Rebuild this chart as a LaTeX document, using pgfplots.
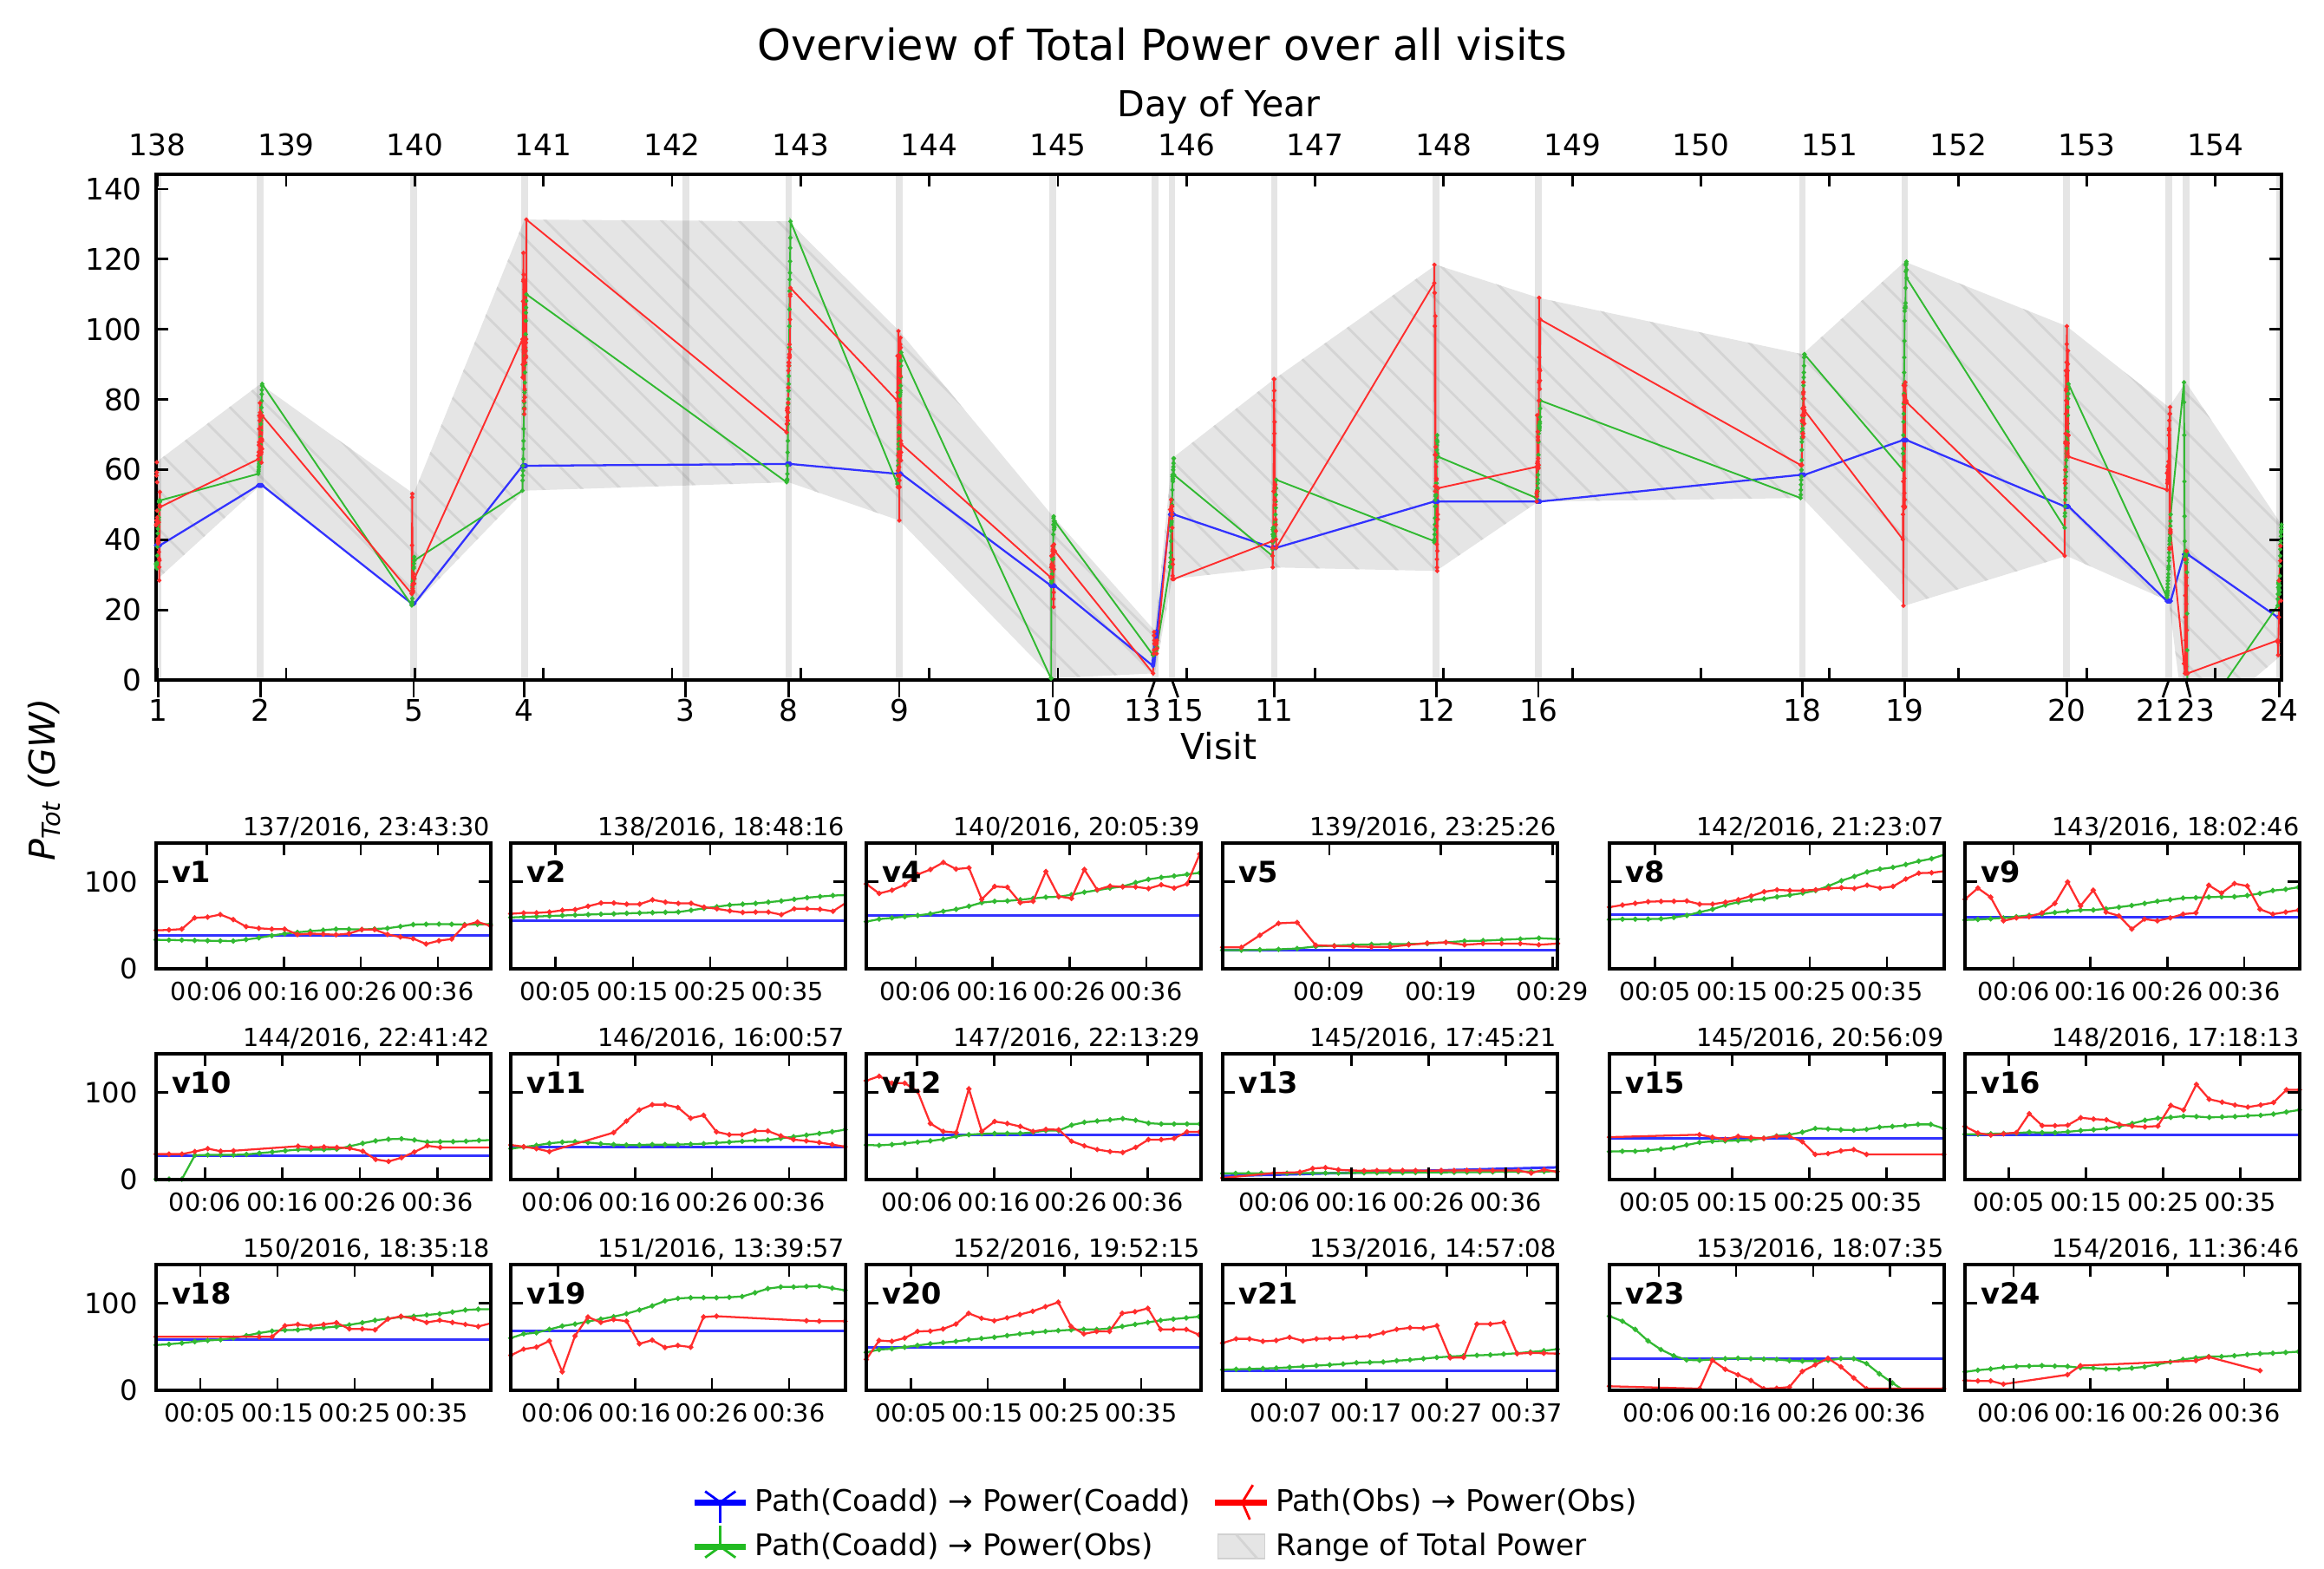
\documentclass[border=0pt]{standalone}
\usepackage{fontspec}
\setmainfont{DejaVu Sans}
\usepackage{pgfplots}
\pgfplotsset{compat=1.18}
\usepackage{pgfplotstable}
\usetikzlibrary{patterns.meta}

\definecolor{cb}{RGB}{50,50,255}
\definecolor{cr}{RGB}{255,45,45}
\definecolor{cg}{RGB}{50,185,50}
\definecolor{lb}{RGB}{0,0,255}
\definecolor{lr}{RGB}{255,0,0}
\definecolor{lg}{RGB}{34,187,34}

\newcommand\fB{\fontsize{9.8}{11.8}\selectfont}
\newcommand\fS{\fontsize{8.2}{9.8}\selectfont}
\newcommand\fL{\fontsize{11.75}{14}\selectfont}
\newcommand\fT{\fontsize{14.1}{17}\selectfont}

% v = visit, s = start (day of year), t = minutes since start,
% b = Path(Coadd)->Power(Coadd), g = Path(Coadd)->Power(Obs)
\pgfplotstableread{
v s t b g
1 137.98854 0 38.4 33.2
1 137.98854 1.67 38.4 33
1 137.98854 3.33 38.4 32.8
1 137.98854 5 38.4 32.5
1 137.98854 6.67 38.4 32.2
1 137.98854 8.33 38.4 32
1 137.98854 10 38.4 31.8
1 137.98854 11.67 38.4 33.5
1 137.98854 13.33 38.4 35.5
1 137.98854 15 38.4 38
1 137.98854 16.67 38.4 40.3
1 137.98854 18.33 38.4 41.8
1 137.98854 20 38.4 43.1
1 137.98854 21.67 38.4 44.3
1 137.98854 23.33 38.4 45.5
1 137.98854 25 38.4 45.3
1 137.98854 26.67 38.4 45
1 137.98854 28.33 38.4 45.6
1 137.98854 30 38.4 46.4
1 137.98854 31.67 38.4 48.5
1 137.98854 33.33 38.4 50.7
1 137.98854 35 38.4 51
1 137.98854 36.67 38.4 51.2
1 137.98854 38.33 38.4 51
1 137.98854 40 38.4 50.7
1 137.98854 41.67 38.4 50.9
1 137.98854 43.33 38.4 51.2
2 138.78352 0 55.5 58.8
2 138.78352 1.67 55.5 59.4
2 138.78352 3.33 55.5 59.9
2 138.78352 5 55.5 60.5
2 138.78352 6.67 55.5 61
2 138.78352 8.33 55.5 61.6
2 138.78352 10 55.5 62.1
2 138.78352 11.67 55.5 62.6
2 138.78352 13.33 55.5 63
2 138.78352 15 55.5 63.5
2 138.78352 16.67 55.5 64
2 138.78352 18.33 55.5 64.3
2 138.78352 20 55.5 64.7
2 138.78352 21.67 55.5 65
2 138.78352 23.33 55.5 67.1
2 138.78352 25 55.5 69.2
2 138.78352 26.67 55.5 71.1
2 138.78352 28.33 55.5 73
2 138.78352 30 55.5 74
2 138.78352 31.67 55.5 74.9
2 138.78352 33.33 55.5 76.3
2 138.78352 35 55.5 77.7
2 138.78352 36.67 55.5 79.6
2 138.78352 38.33 55.5 81.5
2 138.78352 40 55.5 82.7
2 138.78352 41.67 55.5 83.9
2 138.78352 43.33 55.5 84.4
5 139.976 0 21.8 21.3
5 139.976 1.67 21.8 21.3
5 139.976 3.33 21.8 21.8
5 139.976 5 21.8 22.3
5 139.976 6.67 21.8 23.2
5 139.976 8.33 21.8 25.6
5 139.976 10 21.8 26.5
5 139.976 11.67 21.8 27.5
5 139.976 13.33 21.8 28
5 139.976 15 21.8 28.4
5 139.976 16.67 21.8 28.4
5 139.976 18.33 21.8 28.9
5 139.976 20 21.8 30.3
5 139.976 21.67 21.8 31.8
5 139.976 23.33 21.8 32.2
5 139.976 25 21.8 33.2
5 139.976 26.67 21.8 34.1
5 139.976 28.33 21.8 35.1
5 139.976 30 21.8 34.1
4 140.83726 0 61.1 54
4 140.83726 1.67 61.1 56.9
4 140.83726 3.33 61.1 58.3
4 140.83726 5 61.1 59.7
4 140.83726 6.67 61.1 61.1
4 140.83726 8.33 61.1 63
4 140.83726 10 61.1 65.9
4 140.83726 11.67 61.1 68.2
4 140.83726 13.33 61.1 71.6
4 140.83726 15 61.1 75.8
4 140.83726 16.67 61.1 77.3
4 140.83726 18.33 61.1 77.7
4 140.83726 20 61.1 79.1
4 140.83726 21.67 61.1 80.6
4 140.83726 23.33 61.1 82
4 140.83726 25 61.1 82.5
4 140.83726 26.67 61.1 84.8
4 140.83726 28.33 61.1 87.7
4 140.83726 30 61.1 90
4 140.83726 31.67 61.1 92.4
4 140.83726 33.33 61.1 94.3
4 140.83726 35 61.1 98.6
4 140.83726 36.67 61.1 102.4
4 140.83726 38.33 61.1 104.7
4 140.83726 40 61.1 106.2
4 140.83726 41.67 61.1 108.1
4 140.83726 43.33 61.1 110
8 142.89105 0 61.6 56.4
8 142.89105 1.67 61.6 56.9
8 142.89105 3.33 61.6 56.9
8 142.89105 5 61.6 56.9
8 142.89105 6.67 61.6 57.3
8 142.89105 8.33 61.6 58.8
8 142.89105 10 61.6 61.1
8 142.89105 11.67 61.6 64.9
8 142.89105 13.33 61.6 68.2
8 142.89105 15 61.6 73
8 142.89105 16.67 61.6 76.3
8 142.89105 18.33 61.6 78.7
8 142.89105 20 61.6 80.1
8 142.89105 21.67 61.6 82.5
8 142.89105 23.33 61.6 84.4
8 142.89105 25 61.6 86.7
8 142.89105 26.67 61.6 89.6
8 142.89105 28.33 61.6 94.8
8 142.89105 30 61.6 100.9
8 142.89105 31.67 61.6 105.7
8 142.89105 33.33 61.6 110.9
8 142.89105 35 61.6 114.2
8 142.89105 36.67 61.6 116.1
8 142.89105 38.33 61.6 119.4
8 142.89105 40 61.6 123.2
8 142.89105 41.67 61.6 126.1
8 142.89105 43.33 61.6 130.8
9 143.75192 0 58.8 55.9
9 143.75192 1.67 58.8 56.4
9 143.75192 3.33 58.8 57.3
9 143.75192 5 58.8 58.3
9 143.75192 6.67 58.8 59.7
9 143.75192 8.33 58.8 61.1
9 143.75192 10 58.8 62.6
9 143.75192 11.67 58.8 64.5
9 143.75192 13.33 58.8 65.9
9 143.75192 15 58.8 67.3
9 143.75192 16.67 58.8 67.3
9 143.75192 18.33 58.8 68.7
9 143.75192 20 58.8 70.6
9 143.75192 21.67 58.8 72.5
9 143.75192 23.33 58.8 74.9
9 143.75192 25 58.8 77.3
9 143.75192 26.67 58.8 79.1
9 143.75192 28.33 58.8 81
9 143.75192 30 58.8 81.5
9 143.75192 31.67 58.8 82
9 143.75192 33.33 58.8 82.5
9 143.75192 35 58.8 82.5
9 143.75192 36.67 58.8 83.9
9 143.75192 38.33 58.8 86.3
9 143.75192 40 58.8 89.6
9 143.75192 41.67 58.8 91
9 143.75192 43.33 58.8 93.4
10 144.94563 0 26.9 0.5
10 144.94563 1.67 26.9 0.5
10 144.94563 3.33 26.9 0.5
10 144.94563 5 26.9 27.8
10 144.94563 6.67 26.9 28.3
10 144.94563 8.33 26.9 28.3
10 144.94563 10 26.9 28.3
10 144.94563 11.67 26.9 28.8
10 144.94563 13.33 26.9 30.2
10 144.94563 15 26.9 31.6
10 144.94563 16.67 26.9 33
10 144.94563 18.33 26.9 34.4
10 144.94563 20 26.9 34.4
10 144.94563 21.67 26.9 34.4
10 144.94563 23.33 26.9 34.9
10 144.94563 25 26.9 38.2
10 144.94563 26.67 26.9 41.5
10 144.94563 28.33 26.9 44.3
10 144.94563 30 26.9 46.2
10 144.94563 31.67 26.9 46.7
10 144.94563 33.33 26.9 45.3
10 144.94563 35 26.9 42.9
10 144.94563 36.67 26.9 43.4
10 144.94563 38.33 26.9 43.4
10 144.94563 40 26.9 43.9
10 144.94563 41.67 26.9 44.8
10 144.94563 43.33 26.9 45.3
13 145.73983 0 4 7.1
13 145.73983 1.67 4.4 7.1
13 145.73983 3.33 4.8 7.2
13 145.73983 5 5.2 7.2
13 145.73983 6.67 5.5 7.3
13 145.73983 8.33 5.9 7.3
13 145.73983 10 6.3 7.4
13 145.73983 11.67 6.7 7.4
13 145.73983 13.33 7.1 7.5
13 145.73983 15 7.5 7.5
13 145.73983 16.67 7.8 7.6
13 145.73983 18.33 8.2 7.7
13 145.73983 20 8.6 7.8
13 145.73983 21.67 9 7.9
13 145.73983 23.33 9.4 8
13 145.73983 25 9.8 8.1
13 145.73983 26.67 10.2 8.2
13 145.73983 28.33 10.5 8.3
13 145.73983 30 10.9 8.4
13 145.73983 31.67 11.3 8.5
13 145.73983 33.33 11.7 8.6
13 145.73983 35 12.1 8.8
13 145.73983 36.67 12.5 9
13 145.73983 38.33 12.8 9.1
13 145.73983 40 13.2 9.2
13 145.73983 41.67 13.6 9.3
13 145.73983 43.33 14 9.4
15 145.87233 0 47.2 32.1
15 145.87233 1.67 47.2 32.5
15 145.87233 3.33 47.2 32.5
15 145.87233 5 47.2 33.5
15 145.87233 6.67 47.2 34.9
15 145.87233 8.33 47.2 36.3
15 145.87233 10 47.2 39.6
15 145.87233 11.67 47.2 42.5
15 145.87233 13.33 47.2 43.9
15 145.87233 15 47.2 44.3
15 145.87233 16.67 47.2 44.8
15 145.87233 18.33 47.2 45.3
15 145.87233 20 47.2 47.2
15 145.87233 21.67 47.2 50
15 145.87233 23.33 47.2 51.4
15 145.87233 25 47.2 54.2
15 145.87233 26.67 47.2 58.5
15 145.87233 28.33 47.2 58
15 145.87233 30 47.2 57.1
15 145.87233 31.67 47.2 56.6
15 145.87233 33.33 47.2 57.5
15 145.87233 35 47.2 59.9
15 145.87233 36.67 47.2 60.8
15 145.87233 38.33 47.2 61.8
15 145.87233 40 47.2 63.2
15 145.87233 41.67 47.2 63.2
15 145.87233 43.33 47.2 58.5
11 146.66733 0 37.7 35.4
11 146.66733 1.67 37.7 37.3
11 146.66733 3.33 37.7 39.2
11 146.66733 5 37.7 41.5
11 146.66733 6.67 37.7 42.9
11 146.66733 8.33 37.7 43.4
11 146.66733 10 37.7 42.5
11 146.66733 11.67 37.7 41
11 146.66733 13.33 37.7 40.1
11 146.66733 15 37.7 39.6
11 146.66733 16.67 37.7 39.6
11 146.66733 18.33 37.7 40.1
11 146.66733 20 37.7 40.1
11 146.66733 21.67 37.7 40.1
11 146.66733 23.33 37.7 40.6
11 146.66733 25 37.7 41
11 146.66733 26.67 37.7 42
11 146.66733 28.33 37.7 42.9
11 146.66733 30 37.7 43.9
11 146.66733 31.67 37.7 44.8
11 146.66733 33.33 37.7 45.3
11 146.66733 35 37.7 47.2
11 146.66733 36.67 37.7 49.1
11 146.66733 38.33 37.7 50.9
11 146.66733 40 37.7 52.8
11 146.66733 41.67 37.7 54.7
11 146.66733 43.33 37.7 57.1
12 147.92603 0 50.9 39.6
12 147.92603 1.67 50.9 39.2
12 147.92603 3.33 50.9 40.1
12 147.92603 5 50.9 41.5
12 147.92603 6.67 50.9 42.9
12 147.92603 8.33 50.9 44.3
12 147.92603 10 50.9 46.2
12 147.92603 11.67 50.9 49.5
12 147.92603 13.33 50.9 51.4
12 147.92603 15 50.9 52.4
12 147.92603 16.67 50.9 52.8
12 147.92603 18.33 50.9 52.8
12 147.92603 20 50.9 52.8
12 147.92603 21.67 50.9 54.2
12 147.92603 23.33 50.9 56.1
12 147.92603 25 50.9 56.1
12 147.92603 26.67 50.9 62.3
12 147.92603 28.33 50.9 65.6
12 147.92603 30 50.9 67
12 147.92603 31.67 50.9 68.4
12 147.92603 33.33 50.9 69.8
12 147.92603 35 50.9 67.9
12 147.92603 36.67 50.9 64.6
12 147.92603 38.33 50.9 63.7
12 147.92603 40 50.9 63.7
12 147.92603 41.67 50.9 63.7
12 147.92603 43.33 50.9 63.7
16 148.72098 0 50.9 51.9
16 148.72098 1.67 50.9 51.9
16 148.72098 3.33 50.9 52.4
16 148.72098 5 50.9 52.8
16 148.72098 6.67 50.9 53.3
16 148.72098 8.33 50.9 54.2
16 148.72098 10 50.9 53.8
16 148.72098 11.67 50.9 53.8
16 148.72098 13.33 50.9 54.7
16 148.72098 15 50.9 56.1
16 148.72098 16.67 50.9 57.1
16 148.72098 18.33 50.9 58.5
16 148.72098 20 50.9 60.8
16 148.72098 21.67 50.9 64.2
16 148.72098 23.33 50.9 67.9
16 148.72098 25 50.9 70.3
16 148.72098 26.67 50.9 71.2
16 148.72098 28.33 50.9 72.6
16 148.72098 30 50.9 72.2
16 148.72098 31.67 50.9 71.2
16 148.72098 33.33 50.9 71.7
16 148.72098 35 50.9 72.2
16 148.72098 36.67 50.9 73.1
16 148.72098 38.33 50.9 73.6
16 148.72098 40 50.9 75
16 148.72098 41.67 50.9 77.4
16 148.72098 43.33 50.9 79.7
18 150.77451 0 58.5 51.9
18 150.77451 1.67 58.5 52.8
18 150.77451 3.33 58.5 54.2
18 150.77451 5 58.5 55.7
18 150.77451 6.67 58.5 57.1
18 150.77451 8.33 58.5 58
18 150.77451 10 58.5 59.9
18 150.77451 11.67 58.5 62.7
18 150.77451 13.33 58.5 65.6
18 150.77451 15 58.5 67.9
18 150.77451 16.67 58.5 68.9
18 150.77451 18.33 58.5 69.3
18 150.77451 20 58.5 70.8
18 150.77451 21.67 58.5 71.7
18 150.77451 23.33 58.5 73.1
18 150.77451 25 58.5 75
18 150.77451 26.67 58.5 77.4
18 150.77451 28.33 58.5 80.2
18 150.77451 30 58.5 82.1
18 150.77451 31.67 58.5 84
18 150.77451 33.33 58.5 84.9
18 150.77451 35 58.5 86.3
18 150.77451 36.67 58.5 87.7
18 150.77451 38.33 58.5 89.6
18 150.77451 40 58.5 92
18 150.77451 41.67 58.5 92.9
18 150.77451 43.33 58.5 92.9
19 151.56941 0 68.4 59.9
19 151.56941 1.67 68.4 64.6
19 151.56941 3.33 68.4 66
19 151.56941 5 68.4 69.8
19 151.56941 6.67 68.4 73.6
19 151.56941 8.33 68.4 75.9
19 151.56941 10 68.4 78.8
19 151.56941 11.67 68.4 81.6
19 151.56941 13.33 68.4 84.4
19 151.56941 15 68.4 87.7
19 151.56941 16.67 68.4 92
19 151.56941 18.33 68.4 96.7
19 151.56941 20 68.4 102.4
19 151.56941 21.67 68.4 105.2
19 151.56941 23.33 68.4 106.1
19 151.56941 25 68.4 106.1
19 151.56941 26.67 68.4 106.1
19 151.56941 28.33 68.4 106.6
19 151.56941 30 68.4 107.5
19 151.56941 31.67 68.4 111.8
19 151.56941 33.33 68.4 116.5
19 151.56941 35 68.4 118.4
19 151.56941 36.67 68.4 118.4
19 151.56941 38.33 68.4 118.9
19 151.56941 40 68.4 119.3
19 151.56941 41.67 68.4 117
19 151.56941 43.33 68.4 114.6
20 152.82795 0 49.5 43.4
20 152.82795 1.67 49.5 46.7
20 152.82795 3.33 49.5 47.6
20 152.82795 5 49.5 49.5
20 152.82795 6.67 49.5 51.4
20 152.82795 8.33 49.5 53.3
20 152.82795 10 49.5 54.7
20 152.82795 11.67 49.5 56.1
20 152.82795 13.33 49.5 58
20 152.82795 15 49.5 59.4
20 152.82795 16.67 49.5 60.8
20 152.82795 18.33 49.5 62.7
20 152.82795 20 49.5 64.6
20 152.82795 21.67 49.5 66
20 152.82795 23.33 49.5 67.5
20 152.82795 25 49.5 68.4
20 152.82795 26.67 49.5 69.3
20 152.82795 28.33 49.5 69.8
20 152.82795 30 49.5 69.8
20 152.82795 31.67 49.5 70.8
20 152.82795 33.33 49.5 73.1
20 152.82795 35 49.5 75.5
20 152.82795 36.67 49.5 77.8
20 152.82795 38.33 49.5 80.2
20 152.82795 40 49.5 81.6
20 152.82795 41.67 49.5 83
20 152.82795 43.33 49.5 84.4
21 153.62301 0 22.5 23.6
21 153.62301 1.67 22.5 24.1
21 153.62301 3.33 22.5 24.5
21 153.62301 5 22.5 25
21 153.62301 6.67 22.5 25.5
21 153.62301 8.33 22.5 26.4
21 153.62301 10 22.5 27.4
21 153.62301 11.67 22.5 28.3
21 153.62301 13.33 22.5 29.2
21 153.62301 15 22.5 30.2
21 153.62301 16.67 22.5 31.6
21 153.62301 18.33 22.5 32.1
21 153.62301 20 22.5 32.5
21 153.62301 21.67 22.5 34
21 153.62301 23.33 22.5 34.9
21 153.62301 25 22.5 36.3
21 153.62301 26.67 22.5 37.7
21 153.62301 28.33 22.5 38.7
21 153.62301 30 22.5 39.6
21 153.62301 31.67 22.5 40.1
21 153.62301 33.33 22.5 40.6
21 153.62301 35 22.5 41.5
21 153.62301 36.67 22.5 42.5
21 153.62301 38.33 22.5 43.9
21 153.62301 40 22.5 45.3
21 153.62301 41.67 22.5 47.2
23 153.75527 0 35.8 84.9
23 153.75527 1.67 35.8 79.2
23 153.75527 3.33 35.8 69.8
23 153.75527 5 35.8 56.6
23 153.75527 6.67 35.8 46.7
23 153.75527 8.33 35.8 39.6
23 153.75527 10 35.8 34.9
23 153.75527 11.67 35.8 34.4
23 153.75527 13.33 35.8 35.4
23 153.75527 15 35.8 36.3
23 153.75527 16.67 35.8 36.8
23 153.75527 18.33 35.8 36.3
23 153.75527 20 35.8 35.8
23 153.75527 21.67 35.8 35.4
23 153.75527 23.33 35.8 34
23 153.75527 25 35.8 33.5
23 153.75527 26.67 35.8 33.5
23 153.75527 28.33 35.8 34.4
23 153.75527 30 35.8 36.3
23 153.75527 31.67 35.8 36.3
23 153.75527 33.33 35.8 30.7
23 153.75527 35 35.8 18.9
23 153.75527 36.67 35.8 8.5
23 153.75527 38.33 35.8 -1
23 153.75527 40 35.8 -8
23 153.75527 41.67 35.8 -13
23 153.75527 43.33 35.8 -16
24 154.48387 0 17.9 21.2
24 154.48387 1.67 nan 23.1
24 154.48387 3.33 nan 24.5
24 154.48387 5 nan 26.4
24 154.48387 6.67 nan 27.4
24 154.48387 8.33 nan 27.8
24 154.48387 10 nan 28.3
24 154.48387 11.67 nan 27.8
24 154.48387 13.33 nan 27.4
24 154.48387 15 nan 25.9
24 154.48387 16.67 nan 25.5
24 154.48387 18.33 nan 24.5
24 154.48387 20 nan 24.5
24 154.48387 21.67 nan 25.5
24 154.48387 23.33 nan 26.9
24 154.48387 25 nan 29.7
24 154.48387 26.67 nan 32.5
24 154.48387 28.33 nan 35.4
24 154.48387 30 nan 37.3
24 154.48387 31.67 nan 38.7
24 154.48387 33.33 nan 38.7
24 154.48387 35 nan 39.6
24 154.48387 36.67 nan 41
24 154.48387 38.33 nan 42
24 154.48387 40 nan 42.5
24 154.48387 41.67 nan 43.4
24 154.48387 43.33 nan 44.3
}\alldata

% r = Path(Obs)->Power(Obs), only the samples that exist
\pgfplotstableread{
v s t r
1 137.98854 0 44.1
1 137.98854 1.67 44.5
1 137.98854 3.33 45.5
1 137.98854 5 58.3
1 137.98854 6.67 59.2
1 137.98854 8.33 62.1
1 137.98854 10 56.4
1 137.98854 11.67 48.3
1 137.98854 13.33 46.4
1 137.98854 15 45.5
1 137.98854 16.67 45.5
1 137.98854 18.33 39.3
1 137.98854 20 40.3
1 137.98854 21.67 39.8
1 137.98854 23.33 38.9
1 137.98854 25 40.3
1 137.98854 26.67 45
1 137.98854 28.33 45
1 137.98854 30 39.3
1 137.98854 31.67 36.5
1 137.98854 33.33 34.6
1 137.98854 35 28.4
1 137.98854 36.67 32.2
1 137.98854 38.33 34.1
1 137.98854 40 49.8
1 137.98854 41.67 53.6
1 137.98854 43.33 49.3
2 138.78352 0 63
2 138.78352 1.67 64
2 138.78352 3.33 64
2 138.78352 5 65
2 138.78352 6.67 67
2 138.78352 8.33 67.8
2 138.78352 10 71.6
2 138.78352 11.67 75.4
2 138.78352 13.33 75.4
2 138.78352 15 74
2 138.78352 16.67 74
2 138.78352 18.33 79
2 138.78352 20 76.3
2 138.78352 21.67 74.9
2 138.78352 23.33 74.9
2 138.78352 25 70.6
2 138.78352 26.67 68.7
2 138.78352 28.33 66.4
2 138.78352 30 64.5
2 138.78352 31.67 65
2 138.78352 33.33 65
2 138.78352 35 62
2 138.78352 36.67 68.7
2 138.78352 38.33 68.7
2 138.78352 40 68.2
2 138.78352 41.67 65.9
2 138.78352 43.33 75.4
5 139.976 0 24.6
5 139.976 1.67 24.6
5 139.976 3.33 38.4
5 139.976 5 52.1
5 139.976 6.67 53.1
5 139.976 8.33 27
5 139.976 10 26.1
5 139.976 11.67 25.6
5 139.976 13.33 25.1
5 139.976 15 25.1
5 139.976 16.67 27.5
5 139.976 18.33 29.4
5 139.976 20 30.3
5 139.976 21.67 27.5
5 139.976 23.33 28.9
5 139.976 25 28.9
5 139.976 26.67 28.9
5 139.976 28.33 27.5
5 139.976 30 28.9
4 140.83726 0 97.2
4 140.83726 1.67 86.3
4 140.83726 3.33 90
4 140.83726 5 96.2
4 140.83726 6.67 108
4 140.83726 8.33 113.7
4 140.83726 10 121.8
4 140.83726 11.67 114.2
4 140.83726 13.33 115.6
4 140.83726 15 79.6
4 140.83726 16.67 94.3
4 140.83726 18.33 93.4
4 140.83726 20 75.8
4 140.83726 21.67 77.3
4 140.83726 23.33 111.4
4 140.83726 25 82.9
4 140.83726 26.67 80.6
4 140.83726 28.33 113.7
4 140.83726 30 90.5
4 140.83726 31.67 94.8
4 140.83726 33.33 93.8
4 140.83726 35 93.8
4 140.83726 36.67 91.9
4 140.83726 38.33 96.2
4 140.83726 40 92.4
4 140.83726 41.67 97.2
4 140.83726 43.33 131.3
8 142.89105 0 70.6
8 142.89105 1.67 73
8 142.89105 3.33 74.9
8 142.89105 5 76.8
8 142.89105 6.67 77.3
8 142.89105 8.33 77.3
8 142.89105 10 77.7
8 142.89105 11.67 74
8 142.89105 13.33 74
8 142.89105 15 76.3
8 142.89105 16.67 79.1
8 142.89105 18.33 83.4
8 142.89105 20 88.2
8 142.89105 21.67 90.5
8 142.89105 23.33 89.6
8 142.89105 25 89.6
8 142.89105 26.67 90.5
8 142.89105 28.33 91.9
8 142.89105 30 92.9
8 142.89105 31.67 91.9
8 142.89105 33.33 95.7
8 142.89105 35 92.4
8 142.89105 36.67 94.3
8 142.89105 38.33 102.8
8 142.89105 40 109.5
8 142.89105 41.67 110
8 142.89105 43.33 111.8
9 143.75192 0 79.6
9 143.75192 1.67 92.4
9 143.75192 3.33 82
9 143.75192 5 55
9 143.75192 6.67 58.3
9 143.75192 8.33 59.7
9 143.75192 10 64
9 143.75192 11.67 74.9
9 143.75192 13.33 99.5
9 143.75192 15 72
9 143.75192 16.67 90
9 143.75192 18.33 64.9
9 143.75192 20 60.7
9 143.75192 21.67 45.5
9 143.75192 23.33 56.9
9 143.75192 25 55
9 143.75192 26.67 58.3
9 143.75192 28.33 62.6
9 143.75192 30 64
9 143.75192 31.67 95.7
9 143.75192 33.33 86.7
9 143.75192 35 97.6
9 143.75192 36.67 94.8
9 143.75192 38.33 68.2
9 143.75192 40 62.6
9 143.75192 41.67 64.9
9 143.75192 43.33 67.3
10 144.94563 0 29.2
10 144.94563 1.67 29.2
10 144.94563 3.33 29.2
10 144.94563 5 32.1
10 144.94563 6.67 35.4
10 144.94563 8.33 32.5
10 144.94563 10 33
10 144.94563 18.33 38.2
10 144.94563 20 36.8
10 144.94563 21.67 37.3
10 144.94563 23.33 36.8
10 144.94563 25 35.8
10 144.94563 26.67 32.5
10 144.94563 28.33 23.1
10 144.94563 30 20.8
10 144.94563 31.67 25
10 144.94563 33.33 31.6
10 144.94563 35 38.7
10 144.94563 36.67 36.8
10 144.94563 43.33 36.8
13 145.73983 0 1.9
13 145.73983 6.67 7.5
13 145.73983 10 8.5
13 145.73983 11.67 12.7
13 145.73983 13.33 13.7
13 145.73983 15 11.3
13 145.73983 16.67 10.4
13 145.73983 18.33 10.2
13 145.73983 20 10.4
13 145.73983 21.67 10.6
13 145.73983 23.33 10.4
13 145.73983 25 10.4
13 145.73983 26.67 10.2
13 145.73983 28.33 10.4
13 145.73983 30 10.4
13 145.73983 31.67 10.6
13 145.73983 33.33 10.4
13 145.73983 35 10.4
13 145.73983 36.67 10.4
13 145.73983 38.33 10.4
13 145.73983 40 7.5
13 145.73983 41.67 11.3
13 145.73983 43.33 9
15 145.87233 0 48.6
15 145.87233 11.67 51.4
15 145.87233 13.33 48.6
15 145.87233 15 46.2
15 145.87233 16.67 49.5
15 145.87233 18.33 48.1
15 145.87233 20 47.2
15 145.87233 21.67 49.5
15 145.87233 23.33 49.5
15 145.87233 25 43.4
15 145.87233 26.67 28.8
15 145.87233 28.33 29.7
15 145.87233 30 33
15 145.87233 31.67 34.4
15 145.87233 33.33 28.8
15 145.87233 43.33 28.8
11 146.66733 0 39.6
11 146.66733 1.67 37.7
11 146.66733 3.33 35.4
11 146.66733 5 32.1
11 146.66733 13.33 53.8
11 146.66733 15 67
11 146.66733 16.67 79.7
11 146.66733 18.33 85.8
11 146.66733 20 85.8
11 146.66733 21.67 82.5
11 146.66733 23.33 70.3
11 146.66733 25 73.6
11 146.66733 26.67 54.7
11 146.66733 28.33 51.4
11 146.66733 30 51.4
11 146.66733 31.67 55.7
11 146.66733 33.33 55.7
11 146.66733 35 50
11 146.66733 36.67 45.8
11 146.66733 38.33 44.3
11 146.66733 40 42.5
11 146.66733 41.67 40.1
11 146.66733 43.33 37.7
12 147.92603 0 113.2
12 147.92603 1.67 118.4
12 147.92603 3.33 110.4
12 147.92603 5 110.4
12 147.92603 6.67 100.9
12 147.92603 8.33 64.2
12 147.92603 10 55.2
12 147.92603 11.67 53.8
12 147.92603 13.33 103.8
12 147.92603 15 55.2
12 147.92603 16.67 66.5
12 147.92603 18.33 64.2
12 147.92603 20 60.8
12 147.92603 21.67 55.2
12 147.92603 23.33 57.5
12 147.92603 25 57.1
12 147.92603 26.67 43.9
12 147.92603 28.33 38.7
12 147.92603 30 34.4
12 147.92603 31.67 32.1
12 147.92603 33.33 31.1
12 147.92603 35 36.8
12 147.92603 36.67 45.8
12 147.92603 38.33 45.8
12 147.92603 40 47.2
12 147.92603 41.67 54.7
12 147.92603 43.33 54.7
16 148.72098 0 60.8
16 148.72098 1.67 53.3
16 148.72098 3.33 50.9
16 148.72098 5 52.4
16 148.72098 6.67 53.8
16 148.72098 8.33 75.5
16 148.72098 10 61.8
16 148.72098 11.67 61.8
16 148.72098 13.33 62.3
16 148.72098 15 70.8
16 148.72098 16.67 69.3
16 148.72098 18.33 68.4
16 148.72098 20 63.2
16 148.72098 21.67 61.3
16 148.72098 23.33 60.4
16 148.72098 25 61.3
16 148.72098 26.67 84.9
16 148.72098 28.33 79.7
16 148.72098 30 109
16 148.72098 31.67 92
16 148.72098 33.33 88.7
16 148.72098 35 85.4
16 148.72098 36.67 83
16 148.72098 38.33 85.4
16 148.72098 40 88.2
16 148.72098 41.67 102.8
16 148.72098 43.33 102.8
18 150.77451 0 61.3
18 150.77451 13.33 61.3
18 150.77451 15 61.3
18 150.77451 16.67 74
18 150.77451 18.33 75.5
18 150.77451 20 73.6
18 150.77451 21.67 75.5
18 150.77451 23.33 77.4
18 150.77451 25 70.3
18 150.77451 26.67 70.3
18 150.77451 28.33 69.3
18 150.77451 30 81.6
18 150.77451 31.67 84.9
18 150.77451 33.33 82.1
18 150.77451 35 77.8
18 150.77451 36.67 80.2
18 150.77451 38.33 77.8
18 150.77451 40 75.5
18 150.77451 41.67 73.1
18 150.77451 43.33 76.9
19 151.56941 0 40.1
19 151.56941 1.67 47.2
19 151.56941 3.33 49.5
19 151.56941 5 56.6
19 151.56941 6.67 21.2
19 151.56941 8.33 62.3
19 151.56941 10 84
19 151.56941 11.67 77.8
19 151.56941 13.33 81.1
19 151.56941 15 79.2
19 151.56941 16.67 53.3
19 151.56941 18.33 57.5
19 151.56941 20 49.1
19 151.56941 21.67 51.4
19 151.56941 23.33 49.5
19 151.56941 25 84
19 151.56941 26.67 84.9
19 151.56941 38.33 79.7
19 151.56941 40 79.2
19 151.56941 43.33 79.2
20 152.82795 0 35.4
20 152.82795 1.67 57.1
20 152.82795 3.33 56.1
20 152.82795 5 59.9
20 152.82795 6.67 67.5
20 152.82795 8.33 67.9
20 152.82795 10 70.3
20 152.82795 11.67 75.9
20 152.82795 13.33 88.2
20 152.82795 15 82.5
20 152.82795 16.67 79.7
20 152.82795 18.33 83
20 152.82795 20 86.8
20 152.82795 21.67 90.6
20 152.82795 23.33 95.8
20 152.82795 25 100.9
20 152.82795 26.67 73.1
20 152.82795 28.33 64.6
20 152.82795 30 67.5
20 152.82795 31.67 67.5
20 152.82795 33.33 88.2
20 152.82795 35 90.1
20 152.82795 36.67 93.9
20 152.82795 38.33 69.8
20 152.82795 40 69.8
20 152.82795 41.67 69.8
20 152.82795 43.33 63.7
21 153.62301 0 54.2
21 153.62301 1.67 59
21 153.62301 3.33 59
21 153.62301 5 56.1
21 153.62301 6.67 57.1
21 153.62301 8.33 60.8
21 153.62301 10 56.6
21 153.62301 11.67 59
21 153.62301 13.33 59.4
21 153.62301 15 59.9
21 153.62301 16.67 61.3
21 153.62301 18.33 62.3
21 153.62301 20 66
21 153.62301 21.67 69.8
21 153.62301 23.33 71.7
21 153.62301 25 71.2
21 153.62301 26.67 74
21 153.62301 28.33 37.3
21 153.62301 30 37.7
21 153.62301 31.67 75.9
21 153.62301 33.33 75.9
21 153.62301 35 77.8
21 153.62301 36.67 42
21 153.62301 38.33 42.9
21 153.62301 40 42.5
21 153.62301 41.67 42
23 153.75527 0 4.7
23 153.75527 11.67 1.9
23 153.75527 13.33 34.4
23 153.75527 15 24.1
23 153.75527 16.67 17.9
23 153.75527 18.33 11.3
23 153.75527 20 1.9
23 153.75527 21.67 2.4
23 153.75527 23.33 3.8
23 153.75527 25 21.7
23 153.75527 26.67 29.2
23 153.75527 28.33 36.8
23 153.75527 30 26.9
23 153.75527 31.67 14.2
23 153.75527 33.33 1.9
23 153.75527 43.33 1.9
24 154.48387 0 11.3
24 154.48387 1.67 10.8
24 154.48387 3.33 10.8
24 154.48387 5 7.1
24 154.48387 13.33 17.9
24 154.48387 15 28.3
24 154.48387 30 34
24 154.48387 31.67 38.2
24 154.48387 38.33 22.6
}\reddata

\pgfplotsset{
  smallax/.style={anchor=south west, scale only axis, width=110.29pt, height=41.43pt,
    xmin=0, ymin=0, ymax=144, ytick={0,100},
    tick align=inside, xtick pos=both, ytick pos=both,
    xticklabel pos=left, yticklabel pos=left,
    major tick length=4pt, tick style={line width=0.75pt, black},
    axis line style={line width=1.1pt}, axis on top,
    x tick label style={font=\fS, anchor=base, yshift=-10.4pt},
    y tick label style={font=\fontsize{9.2}{11}\selectfont, anchor=east, xshift=-2.5pt},
    clip mode=individual,
    /pgf/number format/assume math mode=true},
}

\newcommand\sub[8]{%
\begin{axis}[smallax, at={(#1,#2)}, xmax=#4, xtick={#5}, xticklabels={#6}, #8]
\addplot[cb, line width=0.85pt, mark=none, restrict expr to domain={\thisrow{v}}{#3:#3}] table[x=t, y=b] {\alldata};
\addplot[cg, line width=0.65pt, mark=*, mark size=0.5pt, restrict expr to domain={\thisrow{v}}{#3:#3}] table[x=t, y=g] {\alldata};
\addplot[cr, line width=0.65pt, mark=*, mark size=0.5pt, restrict expr to domain={\thisrow{v}}{#3:#3}] table[x=t, y=r] {\reddata};
\node[anchor=west, inner sep=0pt, font=\fontsize{9.6}{11}\selectfont\bfseries] at (rel axis cs:0.045,0.77) {v#3};
\node[anchor=base east, inner sep=0pt, yshift=2.4pt, font=\fS] at (rel axis cs:1,1) {#7};
\end{axis}}

\begin{document}
\begin{tikzpicture}
\path[use as bounding box] (0pt,0pt) rectangle (765.71pt,-516.57pt);

% ---------- main axis ----------
\begin{axis}[at={(51.43pt,-224pt)}, anchor=south west, scale only axis,
  width=700.29pt, height=166.57pt,
  xmin=137.9885, xmax=154.5141, ymin=0, ymax=144.2,
  xtick={138,...,154}, ytick={0,20,...,140},
  tick align=inside, xtick pos=both, ytick pos=both,
  xticklabel pos=right, yticklabel pos=left,
  major tick length=4pt, tick style={line width=0.8pt, black},
  axis line style={line width=1.1pt}, axis on top,
  x tick label style={font=\fB, anchor=base, yshift=6.2pt},
  y tick label style={font=\fB, anchor=east, xshift=-1.1pt},
  xlabel={Day of Year},
  xlabel style={font=\fL, anchor=base, at={(axis description cs:0.5,1)}, yshift=19.06pt},
  /pgf/number format/assume math mode=true]
% range of total power
\addplot[draw=none, fill=black!10] coordinates {
 (137.9885,62.1) (138.7985,84.4) (139.991,53.1) (140.8523,131.3) (142.906,130.8)
 (143.7669,99.5) (144.9606,46.7) (145.7548,14) (145.8873,63.2) (146.6823,85.8)
 (147.941,118.4) (148.736,109) (150.7895,92.9) (151.5844,119.3) (152.843,100.9)
 (153.638,77.8) (153.7703,84.9) (154.5141,44.3)
 (154.5141,7.1) (153.7703,-16) (153.638,22.5) (152.843,35.4) (151.5844,21.2)
 (150.7895,51.9) (148.736,50.9) (147.941,31.1) (146.6823,32.1) (145.8873,28.8)
 (145.7548,1.9) (144.9606,0.5) (143.7669,45.5) (142.906,56.4) (140.8523,54)
 (139.991,21.3) (138.7985,55.5) (137.9885,28.4)} -- cycle;
\addplot[draw=none, pattern={Lines[angle=-45,distance=9pt,line width=0.8pt]}, pattern color=black!17] coordinates {
 (137.9885,62.1) (138.7985,84.4) (139.991,53.1) (140.8523,131.3) (142.906,130.8)
 (143.7669,99.5) (144.9606,46.7) (145.7548,14) (145.8873,63.2) (146.6823,85.8)
 (147.941,118.4) (148.736,109) (150.7895,92.9) (151.5844,119.3) (152.843,100.9)
 (153.638,77.8) (153.7703,84.9) (154.5141,44.3)
 (154.5141,7.1) (153.7703,-16) (153.638,22.5) (152.843,35.4) (151.5844,21.2)
 (150.7895,51.9) (148.736,50.9) (147.941,31.1) (146.6823,32.1) (145.8873,28.8)
 (145.7548,1.9) (144.9606,0.5) (143.7669,45.5) (142.906,56.4) (140.8523,54)
 (139.991,21.3) (138.7985,55.5) (137.9885,28.4)} -- cycle;
% visit bands
\addplot[ycomb, mark=none, draw=black, opacity=0.1, line width=2.2pt] coordinates {
 (138.0035,150) (138.7985,150) (139.991,150) (140.8523,150) (142.106,150) (142.906,150)
 (143.7669,150) (144.9606,150) (145.7548,150) (145.8873,150) (146.6823,150) (147.941,150)
 (148.736,150) (150.7895,150) (151.5844,150) (152.843,150) (153.638,150) (153.7703,150) (154.4989,150)};
\addplot[cb, line width=0.65pt, mark=*, mark size=0.3pt] table[x expr=\thisrow{s}+\thisrow{t}/1440, y=b] {\alldata};
\addplot[cg, line width=0.55pt, mark=*, mark size=0.4pt] table[x expr=\thisrow{s}+\thisrow{t}/1440, y=g] {\alldata};
\addplot[cr, line width=0.55pt, mark=*, mark size=0.4pt] table[x expr=\thisrow{s}+\thisrow{t}/1440, y=r] {\reddata};
\end{axis}

% ---------- visit axis (overlay) ----------
\begin{axis}[at={(51.43pt,-224pt)}, anchor=south west, scale only axis,
  width=700.29pt, height=166.57pt,
  xmin=137.9885, xmax=154.5141, ymin=0, ymax=144.2,
  hide y axis, axis line style={draw=none},
  xtick={138.0035,138.7985,139.991,140.8523,142.106,142.906,143.7669,144.9606,146.6823,147.941,148.736,150.7895,151.5844,152.843,154.4989},
  xticklabels={1,2,5,4,3,8,9,10,11,12,16,18,19,20,24},
  xtick pos=left, xticklabel pos=left, xtick align=outside,
  major tick length=5.7pt, tick style={line width=0.8pt, black},
  x tick label style={font=\fB, anchor=base, yshift=-7.9pt},
  xlabel={Visit},
  xlabel style={font=\fL, anchor=base, at={(axis description cs:0.5,0)}, yshift=-26pt},
  clip=false,
  legend columns=2, legend cell align=left,
  legend style={draw=none, fill=none, at={(0.4757,-1.670)}, anchor=center, font=\fB,
    /tikz/every even column/.append style={column sep=5pt}}]
\draw[line width=0.8pt] (axis cs:145.7548,0) -- ++(-2pt,-5.7pt);
\draw[line width=0.8pt] (axis cs:145.8873,0) -- ++(2pt,-5.7pt);
\draw[line width=0.8pt] (axis cs:153.638,0) -- ++(-2pt,-5.7pt);
\draw[line width=0.8pt] (axis cs:153.7703,0) -- ++(1.5pt,-5.7pt);
\node[font=\fB, anchor=base, xshift=-4pt, yshift=-13.6pt] at (axis cs:145.7548,0) {13};
\node[font=\fB, anchor=base, xshift=4.3pt, yshift=-13.6pt] at (axis cs:145.8873,0) {15};
\node[font=\fB, anchor=base, xshift=-4.6pt, yshift=-13.6pt] at (axis cs:153.638,0) {21};
\node[font=\fB, anchor=base, xshift=3.4pt, yshift=-13.6pt] at (axis cs:153.7703,0) {23};
\addlegendimage{legend image code/.code={
  \draw[lb, line width=2pt] (0pt,0pt) -- (17pt,0pt);
  \draw[lb, line width=0.8pt] (3.5pt,3.6pt) -- (8.5pt,0pt) -- (13.5pt,3.6pt);
  \draw[lb, line width=0.8pt] (8.5pt,0pt) -- (8.5pt,-6.9pt);}}
\addlegendentry{Path(Coadd) → Power(Coadd)}
\addlegendimage{legend image code/.code={
  \draw[lr, line width=2pt] (0pt,0pt) -- (17pt,0pt);
  \draw[lr, line width=0.8pt] (12.5pt,5.7pt) -- (9pt,0pt) -- (11.5pt,-5.7pt);}}
\addlegendentry{Path(Obs) → Power(Obs)}
\addlegendimage{legend image code/.code={
  \draw[lg, line width=2pt] (0pt,0pt) -- (17pt,0pt);
  \draw[lg, line width=0.8pt] (3.5pt,-3.6pt) -- (8.5pt,0pt) -- (13.5pt,-3.6pt);
  \draw[lg, line width=0.8pt] (8.5pt,0pt) -- (8.5pt,6.9pt);}}
\addlegendentry{Path(Coadd) → Power(Obs)}
\addlegendimage{legend image code/.code={
  \draw[fill=black!10, draw=black!18, line width=0.5pt] (1pt,-4pt) rectangle (16.4pt,4pt);
  \draw[black!17, line width=0.8pt] (7pt,4pt) -- (14pt,-4pt);}}
\addlegendentry{Range of Total Power}
\end{axis}

% ---------- per-visit panels ----------
\sub{51.43pt}{-319.14pt}{1}{43.4}{6.55,16.55,26.55,36.55}{00:06,00:16,00:26,00:36}{137/2016, 23:43:30}{}
\sub{168.29pt}{-319.14pt}{2}{43.3}{5.8,15.8,25.8,35.8}{00:05,00:15,00:25,00:35}{138/2016, 18:48:16}{yticklabels={}}
\sub{285.43pt}{-319.14pt}{4}{43.5}{6.4,16.4,26.4,36.4}{00:06,00:16,00:26,00:36}{140/2016, 20:05:39}{yticklabels={}}
\sub{402.86pt}{-319.14pt}{5}{30.0}{9.55,19.55,29.55}{00:09,00:19,00:29}{139/2016, 23:25:26}{yticklabels={}}
\sub{530.29pt}{-319.14pt}{8}{43.3}{5.9,15.9,25.9,35.9}{00:05,00:15,00:25,00:35}{142/2016, 21:23:07}{yticklabels={}}
\sub{647.43pt}{-319.14pt}{9}{43.5}{6.3,16.3,26.3,36.3}{00:06,00:16,00:26,00:36}{143/2016, 18:02:46}{yticklabels={}}

\sub{51.43pt}{-388.57pt}{10}{43.2}{6.3,16.3,26.3,36.3}{00:06,00:16,00:26,00:36}{144/2016, 22:41:42}{}
\sub{168.29pt}{-388.57pt}{11}{43.4}{6.1,16.1,26.1,36.1}{00:06,00:16,00:26,00:36}{146/2016, 16:00:57}{yticklabels={}}
\sub{285.43pt}{-388.57pt}{12}{43.5}{6.6,16.6,26.6,36.6}{00:06,00:16,00:26,00:36}{147/2016, 22:13:29}{yticklabels={}}
\sub{402.86pt}{-388.57pt}{13}{43.4}{6.7,16.7,26.7,36.7}{00:06,00:16,00:26,00:36}{145/2016, 17:45:21}{yticklabels={}}
\sub{530.29pt}{-388.57pt}{15}{43.4}{5.9,15.9,25.9,35.9}{00:05,00:15,00:25,00:35}{145/2016, 20:56:09}{yticklabels={}}
\sub{647.43pt}{-388.57pt}{16}{43.4}{5.7,15.7,25.7,35.7}{00:05,00:15,00:25,00:35}{148/2016, 17:18:13}{yticklabels={}}

\sub{51.43pt}{-458pt}{18}{43.3}{5.7,15.7,25.7,35.7}{00:05,00:15,00:25,00:35}{150/2016, 18:35:18}{}
\sub{168.29pt}{-458pt}{19}{43.4}{6.1,16.1,26.1,36.1}{00:06,00:16,00:26,00:36}{151/2016, 13:39:57}{yticklabels={}}
\sub{285.43pt}{-458pt}{20}{43.6}{5.8,15.8,25.8,35.8}{00:05,00:15,00:25,00:35}{152/2016, 19:52:15}{yticklabels={}}
\sub{402.86pt}{-458pt}{21}{41.7}{7.9,17.9,27.9,37.9}{00:07,00:17,00:27,00:37}{153/2016, 14:57:08}{yticklabels={}}
\sub{530.29pt}{-458pt}{23}{43.4}{6.4,16.4,26.4,36.4}{00:06,00:16,00:26,00:36}{153/2016, 18:07:35}{yticklabels={}}
\sub{647.43pt}{-458pt}{24}{43.5}{6.3,16.3,26.3,36.3}{00:06,00:16,00:26,00:36}{154/2016, 11:36:46}{yticklabels={}}

% ---------- title and shared y label ----------
\node[font=\fT, anchor=base] at (382.86pt,-19.8pt) {Overview of Total Power over all visits};
\node[font=\fL\itshape, rotate=90, anchor=base] at (18pt,-256.9pt) {P\textsubscript{Tot} (GW)};
\end{tikzpicture}
\end{document}
